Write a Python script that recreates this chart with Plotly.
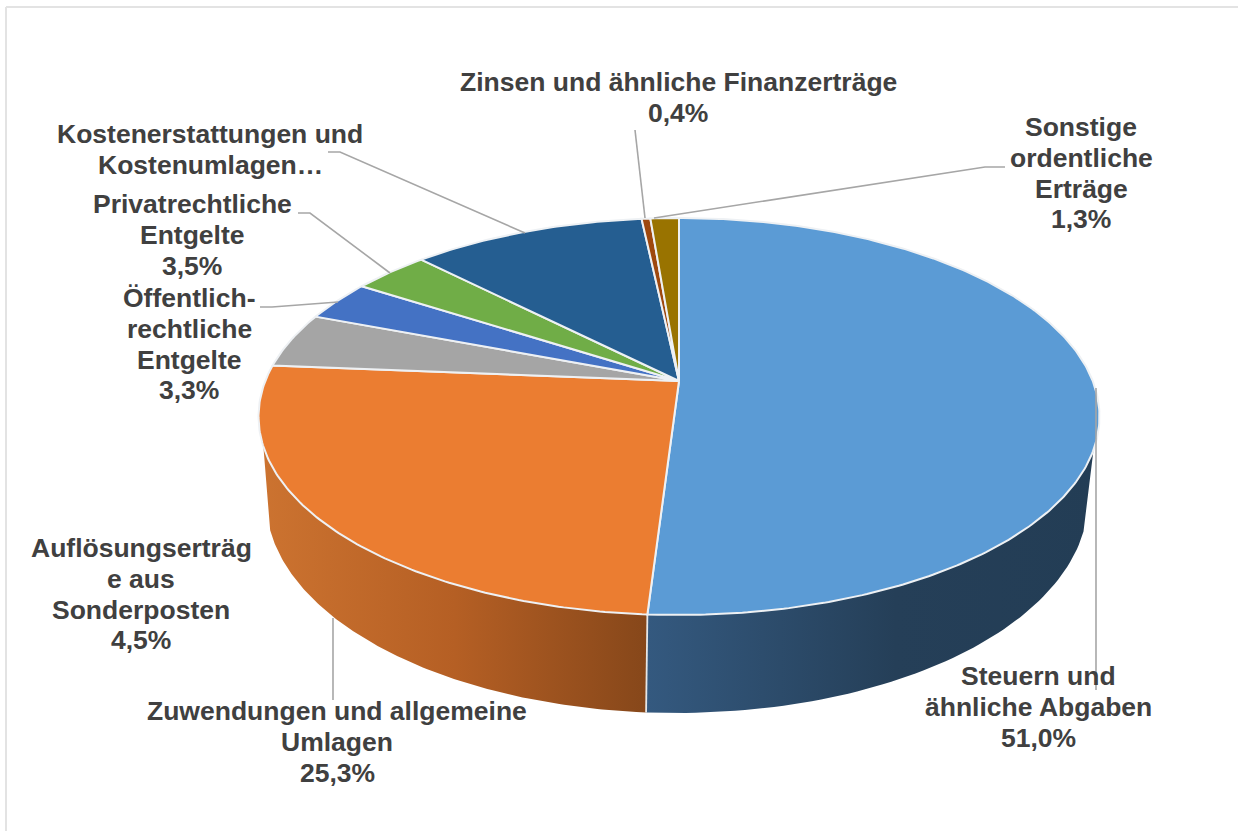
import numpy as np
import plotly.graph_objects as go

# ---- data ----
categories = ["Steuern und ähnliche Abgaben", "Zuwendungen und allgemeine Umlagen",
              "Auflösungserträge aus Sonderposten", "Öffentlich-rechtliche Entgelte",
              "Privatrechtliche Entgelte", "Kostenerstattungen und Kostenumlagen",
              "Zinsen und ähnliche Finanzerträge", "Sonstige ordentliche Erträge"]
values = [51.0, 25.3, 4.5, 3.3, 3.5, 10.7, 0.4, 1.3]
colors = ["#5B9BD5", "#EB7D31", "#A5A5A5", "#4472C4", "#70AD47", "#255E91", "#9E480E", "#997300"]
label_lines = [["Steuern und", "ähnliche Abgaben", "51,0%"],
               ["Zuwendungen und allgemeine", "Umlagen", "25,3%"],
               ["Auflösungserträg", "e aus", "Sonderposten", "4,5%"],
               ["Öffentlich-", "rechtliche", "Entgelte", "3,3%"],
               ["Privatrechtliche", "Entgelte", "3,5%"],
               ["Kostenerstattungen und", "Kostenumlagen…"],
               ["Zinsen und ähnliche Finanzerträge", "0,4%"],
               ["Sonstige", "ordentliche", "Erträge", "1,3%"]]
label_pos = [(1038, 676), (337, 711), (141, 548), (189, 298), (192, 204), (210, 134), (678, 82), (1081, 127)]
leaders = [[(1096, 388), (1096, 690)], [(333, 618), (333, 700)],
           [(260, 307), (272, 307), (338, 302)], [(298, 213), (310, 213), (390, 273)],
           [(328, 152), (340, 152), (525, 233)], [(635, 130), (645, 218)],
           [(1005, 167), (985, 167), (654, 218)]]

# ---- projection geometry (page pixels) ----
CX, CY, A, B = 679.0, 416.5, 420.5, 198.5     # top ellipse
BCX, BCY, BA, BB = 677.0, 500.0, 411.0, 213.0  # lower rim of the wall
APEX_Y = 381.0
P = (CY - APEX_Y) / B
LINE_H = 30.8


def ellipse_param(pct):
    """Perspective-project a rim position (percent, clockwise from top) to normalised ellipse coords."""
    t = np.radians(np.asarray(pct) * 3.6)
    u, v = np.sin(t), np.cos(t)
    den = 1 + P * v
    return u * np.sqrt(1 - P * P) / den, (v + P) / den


def top_xy(xn, yn):
    return CX + A * xn, CY - B * yn


def bottom_xy(xn, yn):
    return BCX + BA * xn, BCY - BB * yn


def wall_poly(p0, p1, top_cut=446, bottom_cut=530):
    """Wall polygon between two rim percentages; straight silhouette between the rims."""
    pct = np.linspace(p0, p1, 160)
    xn, yn = ellipse_param(pct)
    xt, yt = top_xy(xn, yn)
    xb, yb = bottom_xy(xn, yn)
    kt, kb = yt >= top_cut, yb >= bottom_cut
    return np.r_[xt[kt], xb[kb][::-1]], np.r_[yt[kt], yb[kb][::-1]]


fig = go.Figure()

# side walls (only the two front slices are visible)
cum = np.cumsum([0] + values)
wall_grad = [[[0, "#34597F"], [0.55, "#253F58"], [1, "#233D55"]],
             [[0, "#CC7330"], [0.5, "#B55F24"], [1, "#86471A"]]]
for i in range(2):
    x, y = wall_poly(cum[i], cum[i + 1])
    if i == 0:
        grad = dict(type="horizontal", colorscale=wall_grad[0], start=648, stop=1098)
    else:
        grad = dict(type="horizontal", colorscale=wall_grad[1], start=262, stop=648)
    fig.add_trace(go.Scatter(x=np.r_[x, x[0]], y=np.r_[y, y[0]], mode="lines", fill="toself",
                             fillgradient=grad, line=dict(color="rgba(255,255,255,0)", width=0),
                             hoverinfo="skip", showlegend=False))

# wall joint between the two front slices
xn_j, yn_j = ellipse_param(cum[1])
xj0, yj0 = top_xy(xn_j, yn_j)
xj1, yj1 = bottom_xy(xn_j, yn_j)
fig.add_trace(go.Scatter(x=[xj0, xj1], y=[yj0, yj1], mode="lines",
                         line=dict(color="#E6E6E6", width=1.8),
                         hoverinfo="skip", showlegend=False))

# top slices
for i, name in enumerate(categories):
    pct = np.linspace(cum[i], cum[i + 1], max(4, int(values[i] * 6)))
    xn, yn = ellipse_param(pct)
    xt, yt = top_xy(xn, yn)
    fig.add_trace(go.Scatter(x=np.r_[CX, xt, CX], y=np.r_[APEX_Y, yt, APEX_Y], mode="lines",
                             fill="toself", fillcolor=colors[i], name=name,
                             line=dict(color="#EEF1F4", width=2), hoverinfo="name",
                             showlegend=False))

# leader lines
for pts in leaders:
    fig.add_trace(go.Scatter(x=[p[0] for p in pts], y=[p[1] for p in pts], mode="lines",
                             line=dict(color="#A6A6A6", width=1.6), hoverinfo="skip", showlegend=False))

for lines, (x, y) in zip(label_lines, label_pos):
    for k, line in enumerate(lines):
        fig.add_annotation(x=x, y=y + k * LINE_H, text=line, showarrow=False, xanchor="center",
                           yanchor="middle", align="center",
                           font=dict(family="Liberation Sans", size=26.5, color="#404040", weight="bold"))

fig.update_layout(
    width=1238, height=831, margin=dict(l=0, r=0, t=0, b=0),
    paper_bgcolor="white", plot_bgcolor="white", showlegend=False,
    xaxis=dict(range=[0, 1238], visible=False, fixedrange=True),
    yaxis=dict(range=[831, 0], visible=False, fixedrange=True),
    shapes=[dict(type="line", x0=6, x1=1238, y0=7, y1=7, line=dict(color="#E3E3E3", width=2), layer="below"),
            dict(type="line", x0=6, x1=6, y0=7, y1=831, line=dict(color="#E3E3E3", width=2), layer="below")],
)
fig.write_html("out.html", config=dict(displayModeBar=False),
               post_script="document.body.style.margin='0';document.body.style.overflow='hidden';")
